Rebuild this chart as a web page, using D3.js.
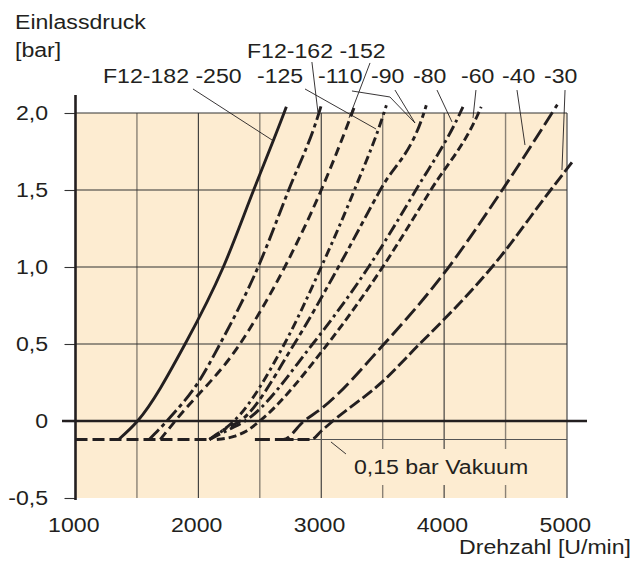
<!DOCTYPE html>
<html>
<head>
<meta charset="utf-8">
<script src="https://cdn.jsdelivr.net/npm/d3@7"></script>
<style>
  body { margin: 0; background: #fff; }
  svg text { font-family: "Liberation Sans", Arial, Helvetica, sans-serif; font-size: 21px; fill: #231f20; }
</style>
</head>
<body>
<div id="chart"></div>
<script>
'use strict';

// axis values
var rpmTicks = [1000, 2000, 3000, 4000, 5000];
var pressureTicks = [-0.5, 0, 0.5, 1.0, 1.5, 2.0];
var gridRpm = [1500, 2000, 2500, 3000, 3500, 4000, 4500];
var gridPressure = [0.5, 1.0, 1.5, 2.0];
var vacuumLevel = -0.12;
var vacuumDash = [[1000, vacuumLevel], [2090, vacuumLevel]];
var vacuumThin = [[2680, vacuumLevel], [5000, vacuumLevel]];

// curves, [rpm, bar]
var curveF12_182 = [[1351,-0.12],[1505,0],[1892,0.5],[2203,1.0],[2450,1.5],[2697,2.0],[2716,2.04]];
var curveF12_162 = [[1600,-0.12],[1743,0],[2014,0.27],[2176,0.5],[2486,1.0],[2735,1.5],[2981,2.0],[3000,2.05]];
var curveF12_152 = [[1690,-0.12],[1811,0],[2338,0.5],[2703,1.0],[3000,1.5],[3251,2.0],[3270,2.04]];
var curveF12_125 = [[2090,-0.12],[2200,-0.06],[2290,0],[2700,0.5],[3000,1.0],[3270,1.5],[3510,2.0],[3530,2.05]];
var curveF12_110 = [[2090,-0.12],[2220,-0.05],[2340,0],[2780,0.5],[3140,1.0],[3480,1.5],[3835,2.0],[3855,2.05]];
var curveF12_80 = [[2090,-0.12],[2250,-0.055],[2380,0],[2930,0.5],[3385,1.0],[3770,1.5],[4130,2.0],[4153,2.04]];
var curveF12_60 = [[2150,-0.12],[2290,-0.1],[2392,-0.065],[2500,0],[3052,0.5],[3500,1.0],[3892,1.5],[4280,2.0],[4302,2.04]];
var curveF12_40 = [[2460,-0.12],[2690,-0.12],[2860,0],[3000,0.08],[3500,0.49],[4000,0.96],[4473,1.5],[4921,2.054]];
var curveF12_30 = [[2677,-0.12],[2920,-0.12],[3000,-0.065],[3095,0],[3500,0.257],[3800,0.5],[4000,0.66],[4390,1.0],[4867,1.5],[5060,1.70]];

var curves = [curveF12_182, curveF12_162, curveF12_152, curveF12_125, curveF12_110,
              curveF12_80, curveF12_60, curveF12_40, curveF12_30];
var dashes = [null, '14,4,4,4', '9,5', '9,4,3,4', '12,4,5,4', '12,4,3,4', '8,4', '15,5', '12,4'];

// leader lines, from label to curve [rpm, bar]
var leaders = [
  [[1956,2.156],[2599,1.825]],
  [[2924,2.331],[2973,2.006]],
  [[3397,2.325],[3226,1.968]],
  [[2868,2.156],[3446,1.896]],
  [[3250,2.143],[3559,2.104],[3763,1.935]],
  [[3600,2.149],[3763,1.935]],
  [[3942,2.149],[4064,1.942]],
  [[4259,2.149],[4235,1.968]],
  [[4593,2.149],[4658,1.792]],
  [[4984,2.149],[4959,1.630]],
  [[3201,-0.214],[3079,-0.136]]
];
var topLabels = ['F12-162 -152'];
var rowLabels = ['F12-182 -250', '-125', '-110', '-90', '-80', '-60', '-40', '-30'];
var rowLabelX = [103, 257, 318, 371, 413, 461, 502, 544];

var W = 634, H = 561;
var x = d3.scaleLinear().domain([1000, 5000]).range([75.5, 567]);
var y = d3.scaleLinear().domain([-0.5, 2.0]).range([498, 113]);
var ink = '#231f20';
var stretch = 'scale(1.1,1)';

var svg = d3.select('#chart').append('svg')
    .attr('width', W)
    .attr('height', H);

function label(x0, y0, txt, anchor) {
  return svg.append('text')
    .attr('transform', 'translate(' + x0 + ',' + y0 + ') ' + stretch)
    .attr('text-anchor', anchor || 'start')
    .text(txt);
}

// plot background
svg.append('rect')
  .attr('x', x(1000))
  .attr('y', y(2.0))
  .attr('width', x(5000) - x(1000))
  .attr('height', y(-0.5) - y(2.0))
  .attr('fill', '#fdecd1');

// grid
svg.append('g').selectAll('line')
  .data(gridRpm)
  .enter().append('line')
  .attr('x1', function(d) { return x(d); })
  .attr('x2', function(d) { return x(d); })
  .attr('y1', y(2.0))
  .attr('y2', y(-0.5))
  .attr('stroke', function(d) { return d % 1000 ? '#8a8175' : '#333'; })
  .attr('stroke-width', function(d) { return d % 1000 ? 1.4 : 1.1; });

svg.append('line')
  .attr('x1', x(5000)).attr('x2', x(5000))
  .attr('y1', y(2.0)).attr('y2', y(-0.5))
  .attr('stroke', '#555').attr('stroke-width', 1.3);

svg.append('g').selectAll('line')
  .data(gridPressure)
  .enter().append('line')
  .attr('x1', x(1000))
  .attr('x2', x(5000))
  .attr('y1', function(d) { return y(d); })
  .attr('y2', function(d) { return y(d); })
  .attr('stroke', '#333')
  .attr('stroke-width', 1.1);

var line = d3.line()
  .x(function(d) { return x(d[0]); })
  .y(function(d) { return y(d[1]); });

svg.append('path')
  .attr('d', line(vacuumThin))
  .attr('stroke', '#555').attr('stroke-width', 1.1).attr('fill', 'none');

// label box hides the grid
svg.append('rect')
  .attr('x', 348).attr('y', 449)
  .attr('width', 194).attr('height', 36)
  .attr('fill', '#fdecd1');

// y axis
var yAxis = d3.axisLeft(y)
  .tickValues(pressureTicks)
  .tickSize(11)
  .tickPadding(14)
  .tickFormat(function(d) {
    return d === 0 ? '0' : d3.format('.1f')(d).replace('.', ',').replace('\u2212', '-');
  });

var yg = svg.append('g')
  .attr('transform', 'translate(' + x(1000) + ',0)')
  .call(yAxis);
yg.select('.domain').remove();
yg.selectAll('line').attr('stroke', '#333').attr('stroke-width', 1.1);
yg.selectAll('text')
  .attr('transform', stretch)
  .attr('font-size', null).attr('font-family', null)
  .attr('fill', ink);

svg.append('line')
  .attr('x1', x(1000)).attr('x2', x(1000))
  .attr('y1', 95).attr('y2', y(-0.5) + 2)
  .attr('stroke', ink).attr('stroke-width', 2.6);

svg.append('line')
  .attr('x1', 62).attr('x2', 587)
  .attr('y1', y(0)).attr('y2', y(0))
  .attr('stroke', ink).attr('stroke-width', 2.6);

// x axis
var xAxis = d3.axisBottom(x)
  .tickValues(rpmTicks)
  .tickSize(0)
  .tickPadding(19)
  .tickFormat(d3.format('d'));

var xg = svg.append('g')
  .attr('transform', 'translate(0,' + y(-0.5) + ')')
  .call(xAxis);
xg.select('.domain').remove();
xg.selectAll('text')
  .attr('x', -2)
  .attr('transform', stretch)
  .attr('font-size', null).attr('font-family', null)
  .attr('fill', ink);

// vacuum level
svg.append('path')
  .attr('d', line(vacuumDash))
  .attr('stroke', ink).attr('stroke-width', 3)
  .attr('stroke-dasharray', '12,5')
  .attr('fill', 'none');

// curves
var curveLine = d3.line()
  .x(function(d) { return x(d[0]); })
  .y(function(d) { return y(d[1]); })
  .curve(d3.curveMonotoneX);

svg.append('g').selectAll('path')
  .data(curves)
  .enter().append('path')
  .attr('d', curveLine)
  .attr('fill', 'none')
  .attr('stroke', ink)
  .attr('stroke-width', 2.9)
  .attr('stroke-dasharray', function(d, i) { return dashes[i]; });

// leaders
svg.append('g').selectAll('path')
  .data(leaders)
  .enter().append('path')
  .attr('d', line)
  .attr('fill', 'none')
  .attr('stroke', ink)
  .attr('stroke-width', 0.9);

// texts
label(15, 29, 'Einlassdruck');
label(15, 57, '[bar]');
label(247, 58, topLabels[0]);
rowLabels.forEach(function(t, i) { label(rowLabelX[i], 83, t); });
label(354, 474, '0,15 bar Vakuum');
label(631, 554, 'Drehzahl [U/min]', 'end');
</script>
</body>
</html>
